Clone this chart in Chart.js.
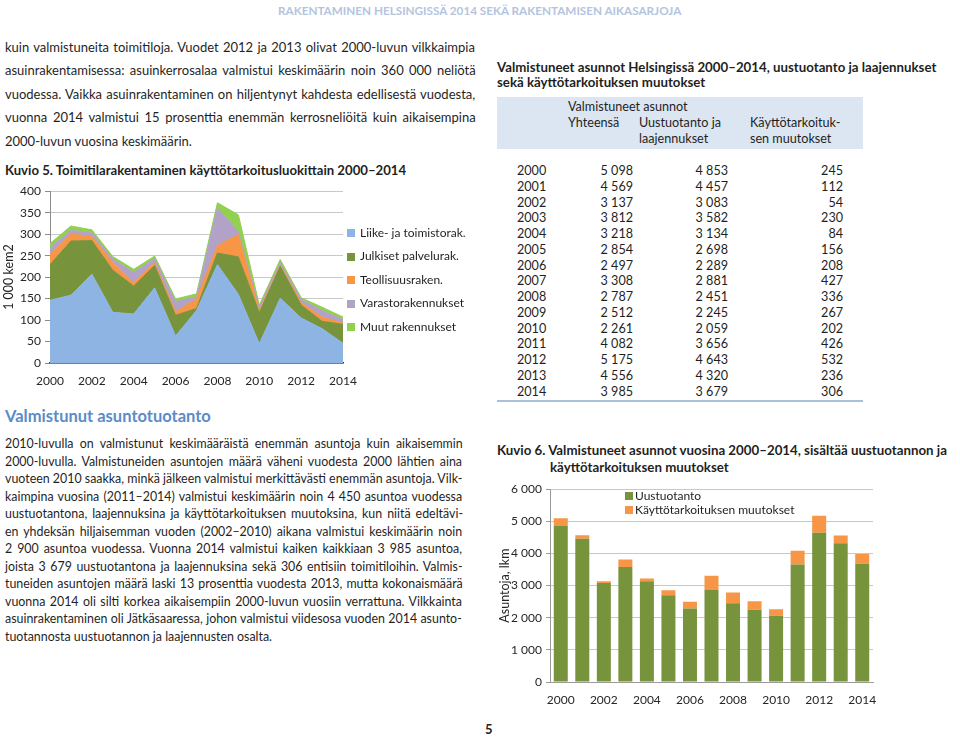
<!DOCTYPE html>
<html><head><meta charset="utf-8">
<script src="https://cdn.jsdelivr.net/npm/chart.js@4.4.1/dist/chart.umd.min.js"></script>
<style>
html,body{margin:0;padding:0;background:#fff;}
body{width:960px;height:737px;position:relative;overflow:hidden;font-family:Lato,"Open Sans",sans-serif;color:#1f1f1f;}
.t{position:absolute;white-space:pre;}
.box{position:absolute;}
</style></head><body>
<div id="c5wrap" style="position:absolute;left:0;top:180px;width:360px;height:205px"><canvas id="c5"></canvas></div>
<div id="c6wrap" style="position:absolute;left:490px;top:478px;width:393px;height:226px"><canvas id="c6"></canvas></div>
<script>
// ---------- DATA ----------
const years = ['2000','2001','2002','2003','2004','2005','2006','2007','2008','2009','2010','2011','2012','2013','2014'];
// Kuvio 5: 1 000 kem2 by use category
const liike      = [146,158,207,118,114,175, 63,122,229,160, 45,151,105, 80, 46];
const julkiset   = [ 83,126, 78, 98, 65, 52, 48,  5, 27, 87, 72, 74, 30, 17, 44];
const teollisuus = [ 25, 16, 10, 18,  8,  6,  8, 22, 17, 52,  4,  3,  5, 10,  3];
const varasto    = [ 14,  9,  8,  8, 24, 10, 24,  5, 88,  7,  9,  6,  8, 15,  8];
const muut       = [ 10, 10,  7,  6,  7,  6,  6,  7, 12, 39,  5,  7,  4,  8,  6];
const areaNames  = ['Liike- ja toimistorak.','Julkiset palvelurak.','Teollisuusraken.','Varastorakennukset','Muut rakennukset'];
const areaTicks  = [0,50,100,150,200,250,300,350,400];
// Kuvio 6 / table: completed dwellings
const yhteensa    = [5098,4569,3137,3812,3218,2854,2497,3308,2787,2512,2261,4082,5175,4556,3985];
const uustuotanto = [4853,4457,3083,3582,3134,2698,2289,2881,2451,2245,2059,3656,4643,4320,3679];
const kaytto      = [ 245, 112,  54, 230,  84, 156, 208, 427, 336, 267, 202, 426, 532, 236, 306];
const barNames    = ['Uustuotanto','Käyttötarkoituksen muutokset'];
const barTicks    = [0,1000,2000,3000,4000,5000,6000];

// ---------- STYLE ----------
const FONT = 'Lato';
const areaColors = ['#8EB4E3','#77933C','#F79646','#B3A2C7','#92D050'];
const barColors = ['#77933C','#F79646'];
const TXT = '#1f1f1f';

// ---------- TEXT HELPERS ----------
const mctx = document.createElement('canvas').getContext('2d');
function measure(text,size,weight){ mctx.font = weight+' '+size+'px '+FONT; return mctx.measureText(text).width; }
function place(text,x,yc,size,weight,color){
  const d=document.createElement('div'); d.className='t'; d.textContent=text;
  d.style.left=x+'px'; d.style.top=(yc-size*0.62)+'px'; d.style.fontSize=size+'px';
  d.style.lineHeight=(size*1.24)+'px'; d.style.fontWeight=weight; d.style.color=color||TXT;
  document.body.appendChild(d); return d;
}
function fitSize(text,width,weight){ return 13*width/measure(text,13,weight); }
function placeRight(text,right,yc,size,weight,color){ return place(text,right-measure(text,size,weight),yc,size,weight,color); }
function paragraph(lines,x,y0,step,width,weight,base){
  const maxW=Math.max(...lines.slice(0,-1).map(l=>measure(l,base,weight)));
  const size=Math.min(base,base*width/maxW);
  lines.forEach((l,i)=>{
    const d=place(l,x,y0+i*step,size,weight);
    if(i<lines.length-1){ const w=measure(l,size,weight); const n=(l.match(/ /g)||[]).length; if(n) d.style.wordSpacing=((width-w)/n)+'px'; }
  });
  return size;
}
function rect(x,y,w,h,c){ const d=document.createElement('div'); d.className='box'; Object.assign(d.style,{left:x+'px',top:y+'px',width:w+'px',height:h+'px',background:c}); document.body.appendChild(d); }
const fmt = v => String(v).replace(/\B(?=(\d{3})+(?!\d))/g,' ');

// ---------- PAGE TEXT ----------
const hdr='RAKENTAMINEN HELSINGISSÄ 2014 SEKÄ RAKENTAMISEN AIKASARJOJA';
place(hdr,278,10,fitSize(hdr,405,700),700,'#b4c4de');

paragraph([
 'kuin valmistuneita toimitiloja. Vuodet 2012 ja 2013 olivat 2000-luvun vilkkaimpia',
 'asuinrakentamisessa: asuinkerrosalaa valmistui keskimäärin noin 360 000 neliötä',
 'vuodessa. Vaikka asuinrakentaminen on hiljentynyt kahdesta edellisestä vuodesta,',
 'vuonna 2014 valmistui 15 prosenttia enemmän kerrosneliöitä kuin aikaisempina',
 '2000-luvun vuosina keskimäärin.'
],5,47,23.5,471,400,13);

const k5='Kuvio 5. Toimitilarakentaminen käyttötarkoitusluokittain 2000–2014';
place(k5,5,170,fitSize(k5,402,700),700);

const h2='Valmistunut asuntotuotanto';
place(h2,5,416,fitSize(h2,206,700),700,'#5b8bc8');

paragraph([
 '2010-luvulla on valmistunut keskimääräistä enemmän asuntoja kuin aikaisemmin',
 '2000-luvulla. Valmistuneiden asuntojen määrä väheni vuodesta 2000 lähtien aina',
 'vuoteen 2010 saakka, minkä jälkeen valmistui merkittävästi enemmän asuntoja. Vilk-',
 'kaimpina vuosina (2011–2014) valmistui keskimäärin noin 4 450 asuntoa vuodessa',
 'uustuotantona, laajennuksina ja käyttötarkoituksen muutoksina, kun niitä edeltävi-',
 'en yhdeksän hiljaisemman vuoden (2002–2010) aikana valmistui keskimäärin noin',
 '2 900 asuntoa vuodessa. Vuonna 2014 valmistui kaiken kaikkiaan 3 985 asuntoa,',
 'joista 3 679 uustuotantona ja laajennuksina sekä 306 entisiin toimitiloihin. Valmis-',
 'tuneiden asuntojen määrä laski 13 prosenttia vuodesta 2013, mutta kokonaismäärä',
 'vuonna 2014 oli silti korkea aikaisempiin 2000-luvun vuosiin verrattuna. Vilkkainta',
 'asuinrakentaminen oli Jätkäsaaressa, johon valmistui viidesosa vuoden 2014 asunto-',
 'tuotannosta uustuotannon ja laajennusten osalta.'
],5,444,17.5,458,400,13);

// right column: table
const t1='Valmistuneet asunnot Helsingissä 2000–2014, uustuotanto ja laajennukset';
const ts=fitSize(t1,440,700);
place(t1,497,67,ts,700);
place('sekä käyttötarkoituksen muutokset',497,82,ts,700);
rect(497,97,366,52,'#dce6f2');
const th=12.6;
place('Valmistuneet asunnot',568,107,th,400);
place('Yhteensä',568,123,th,400);
place('Uustuotanto ja',639,123,th,400);
place('laajennukset',639,139,th,400);
place('Käyttötarkoituk-',750,123,th,400);
place('sen muutokset',750,139,th,400);
years.forEach((y,i)=>{
  const yc=171+i*15.75;
  place(y,517,yc,th,400);
  placeRight(fmt(yhteensa[i]),633,yc,th,400);
  placeRight(fmt(uustuotanto[i]),728,yc,th,400);
  placeRight(fmt(kaytto[i]),843,yc,th,400);
});
rect(497,400,366,2,'#a9c1df');

const k6a='Kuvio 6. Valmistuneet asunnot vuosina 2000–2014, sisältää uustuotannon ja';
const k6s=fitSize(k6a,451,700);
place(k6a,497,450,k6s,700);
place('käyttötarkoituksen muutokset',550,467,k6s,700);

place('5',485,729,13,700,'#222');

// legends
areaNames.forEach((n,i)=>{
  const yc=233+i*23.5;
  rect(347,yc-4,8,8,areaColors[i]);
  place(n,360,yc,12,400);
});
barNames.forEach((n,i)=>{
  const yc=496+i*14;
  rect(625,yc-4,8,8,barColors[i]);
  place(n,635,yc,12,400);
});

// ---------- CHARTS ----------
Chart.defaults.font.family = FONT;
Chart.defaults.color = '#262626';
const areaSeries=[liike,julkiset,teollisuus,varasto,muut];
new Chart(document.getElementById('c5'),{
  type:'line',
  data:{labels:years,datasets:areaSeries.map((d,i)=>({
    label:areaNames[i],data:d,backgroundColor:areaColors[i],borderColor:areaColors[i],borderWidth:1,
    fill:i===0?'origin':'-1',pointRadius:0,tension:0
  }))},
  options:{
    responsive:true,maintainAspectRatio:false,animation:false,
    layout:{padding:{top:9,right:17,left:0,bottom:0}},
    plugins:{legend:{display:false},tooltip:{enabled:false}},
    scales:{
      x:{offset:false,grid:{display:false},border:{color:'#24344f',width:1.5},
         ticks:{autoSkip:false,maxRotation:0,padding:3,font:{size:12},callback:(v,i)=>i%2===0?years[i]:''},
         afterFit:s=>{s.height=22;}},
      y:{stacked:true,min:areaTicks[0],max:areaTicks[areaTicks.length-1],
         afterBuildTicks:s=>{s.ticks=areaTicks.map(v=>({value:v}));},
         ticks:{padding:4,font:{size:12}},
         grid:{color:'#c8c8c8',tickLength:5,tickColor:'#8c8c8c'},border:{color:'#8c8c8c'},
         title:{display:true,text:'1 000 kem2',font:{size:12.5},padding:{top:1,bottom:0}},
         afterFit:s=>{s.width=50;}}
    }
  }
});
new Chart(document.getElementById('c6'),{
  type:'bar',
  data:{labels:years,datasets:[
    {label:barNames[0],data:uustuotanto,backgroundColor:barColors[0],barPercentage:0.65,categoryPercentage:1},
    {label:barNames[1],data:kaytto,backgroundColor:barColors[1],barPercentage:0.65,categoryPercentage:1}
  ]},
  options:{
    responsive:true,maintainAspectRatio:false,animation:false,
    layout:{padding:{top:9,right:10,left:0,bottom:0}},
    plugins:{legend:{display:false},tooltip:{enabled:false}},
    scales:{
      x:{stacked:true,grid:{display:false},border:{color:'#9a9a9a'},
         ticks:{autoSkip:false,maxRotation:0,padding:3,font:{size:12},callback:(v,i)=>i%2===0?years[i]:''},
         afterFit:s=>{s.height=22;}},
      y:{stacked:true,min:barTicks[0],max:barTicks[barTicks.length-1],
         afterBuildTicks:s=>{s.ticks=barTicks.map(v=>({value:v}));},
         ticks:{padding:4,font:{size:12},callback:v=>fmt(v)},
         grid:{color:'#c8c8c8',tickLength:4,tickColor:'#9a9a9a'},border:{color:'#9a9a9a'},
         title:{display:true,text:'Asuntoja, lkm',font:{size:12.5},padding:{top:7,bottom:0}},
         afterFit:s=>{s.width=60;}}
    }
  }
});
</script>
</body></html>
